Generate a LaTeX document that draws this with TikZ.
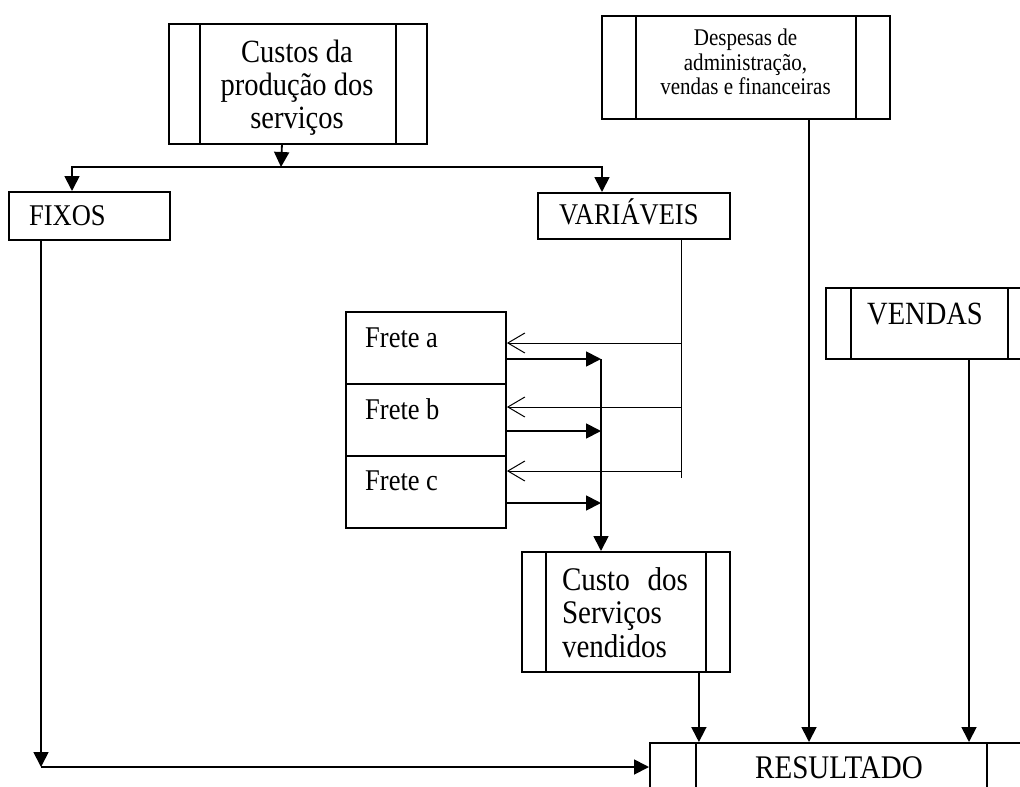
\documentclass[tikz,border=0pt]{standalone}
\usepackage{fontspec}
\setmainfont{Liberation Serif}[FakeStretch=0.88]
\usetikzlibrary{arrows.meta}

\begin{document}
\begin{tikzpicture}[x=1pt,y=-1pt,
  box/.style={draw, line width=1.9pt, inner sep=0pt, anchor=north west},
  sep/.style={line width=1.5pt},
  conn/.style={line width=1.8pt},
  thinline/.style={line width=1pt},
  arr/.style={-{Triangle[length=15pt,width=15pt]}},
  barb/.style={-{Straight Barb[length=17pt,width=20pt,line width=1pt]}},
  bigtxt/.style={font=\fontsize{32.4}{33}\selectfont, inner sep=0pt},
  midtxt/.style={font=\fontsize{30.1}{30}\selectfont, inner sep=0pt},
  smalltxt/.style={font=\fontsize{23.9}{24.5}\selectfont, inner sep=0pt},
]
\clip (0,0) rectangle (1020,787);

% ---------- boxes ----------
\node[box, minimum width=258pt, minimum height=120pt] (prod)   at (168,23)  {};
\node[box, minimum width=288pt, minimum height=103pt] (desp)   at (601,15)  {};
\node[box, minimum width=161pt, minimum height=48pt]  (fixos)  at (8,191)   {};
\node[box, minimum width=192pt, minimum height=46pt]  (var)    at (537,192) {};
\node[box, minimum width=160pt, minimum height=72pt]  (fa)     at (345,311) {};
\node[box, minimum width=160pt, minimum height=72pt]  (fb)     at (345,383) {};
\node[box, minimum width=160pt, minimum height=72pt]  (fc)     at (345,455) {};
\node[box, minimum width=220pt, minimum height=71pt]  (vendas) at (825,287) {};
\node[box, minimum width=208pt, minimum height=120pt] (custo)  at (521,551) {};
\node[box, minimum width=400pt, minimum height=80pt]  (res)    at (649,742) {};

% side bars of the process boxes
\draw[sep] ([xshift=32pt]prod.north west) -- ([xshift=32pt]prod.south west);
\draw[sep] ([xshift=-32pt]prod.north east) -- ([xshift=-32pt]prod.south east);
\draw[sep] ([xshift=35pt]desp.north west) -- ([xshift=35pt]desp.south west);
\draw[sep] ([xshift=-35pt]desp.north east) -- ([xshift=-35pt]desp.south east);
\draw[sep] ([xshift=26pt]vendas.north west) -- ([xshift=26pt]vendas.south west);
\draw[sep] ([xshift=183pt]vendas.north west) -- ([xshift=183pt]vendas.south west);
\draw[sep] ([xshift=25pt]custo.north west) -- ([xshift=25pt]custo.south west);
\draw[sep] ([xshift=-25pt]custo.north east) -- ([xshift=-25pt]custo.south east);
\draw[sep] ([xshift=47pt]res.north west) -- ([xshift=47pt]res.south west);
\draw[sep] ([xshift=338pt]res.north west) -- ([xshift=338pt]res.south west);

% ---------- texts ----------
\node[bigtxt, align=center] (prod-t) at (297,88) {Custos da\\produção dos\\serviços};
\node[smalltxt, align=center] (desp-t) at (745.5,62) {Despesas de\\administração,\\vendas e financeiras};
\node[midtxt, anchor=base west] (fixos-t) at (29,225) {FIXOS};
\node[midtxt, anchor=base west] (var-t) at (559,224) {VARIÁVEIS};
\node[midtxt, anchor=base west] (fa-t) at (365,347) {Frete a};
\node[midtxt, anchor=base west] (fb-t) at (365,419) {Frete b};
\node[midtxt, anchor=base west] (fc-t) at (365,490) {Frete c};
\node[bigtxt, anchor=base west] (vendas-t) at (867,324) {VENDAS};
\node[font=\fontsize{33}{33.5}\selectfont, inner sep=0pt, align=left, text width=126pt] (custo-t) at (625,612.5)
  {\makebox[\linewidth]{Custo\hfill dos}\\Serviços\\vendidos};
\node[font=\fontsize{33}{33}\selectfont, inner sep=0pt, anchor=base west] (res-t) at (755,778) {RESULTADO};

% ---------- connectors ----------
\coordinate (split) at (281,167);
\draw[conn,arr] ([xshift=-16pt]prod.south) -- (split);
\draw[conn,arr] (split) -| ([xshift=64pt]fixos.north west);
\draw[conn,arr] (split) -| ([xshift=65pt]var.north west);

% fixed costs straight to the result
\coordinate (corner) at (41,767);
\draw[conn,arr] ([xshift=33pt]fixos.south west) -- (corner);
\draw[conn,arr] (corner) -- (corner -| res.west);

% variable costs feeding the freights
\coordinate (vend) at (681,478);
\coordinate (fa-in) at ([yshift=-32pt]fa.north east);
\coordinate (fb-in) at ([yshift=-24pt]fb.north east);
\coordinate (fc-in) at ([yshift=-16pt]fc.north east);
\draw[thinline] ([xshift=144pt]var.south west) -- (vend);
\draw[thinline,barb] (vend |- fa-in) -- (fa-in);
\draw[thinline,barb] (vend |- fb-in) -- (fb-in);
\draw[thinline,barb] (vend |- fc-in) -- (fc-in);

% freights collected into the cost of services sold
\coordinate (fa-out) at ([yshift=-48pt]fa.north east);
\coordinate (fb-out) at ([yshift=-48pt]fb.north east);
\coordinate (fc-out) at ([yshift=-48pt]fc.north east);
\coordinate (coltop) at (601,359);
\draw[conn,arr] (fa-out) -- (fa-out -| coltop);
\draw[conn,arr] (fb-out) -- (fb-out -| coltop);
\draw[conn,arr] (fc-out) -- (fc-out -| coltop);
\draw[conn,arr] (coltop) -- (coltop |- custo.north);

% inputs of the result
\coordinate (cout) at ([xshift=-32pt]custo.south east);
\coordinate (dout) at ([xshift=208pt]desp.south west);
\coordinate (vout) at ([xshift=144pt]vendas.south west);
\draw[conn,arr] (cout) -- (cout |- res.north);
\draw[conn,arr] (dout) -- (dout |- res.north);
\draw[conn,arr] (vout) -- (vout |- res.north);
\end{tikzpicture}
\end{document}
